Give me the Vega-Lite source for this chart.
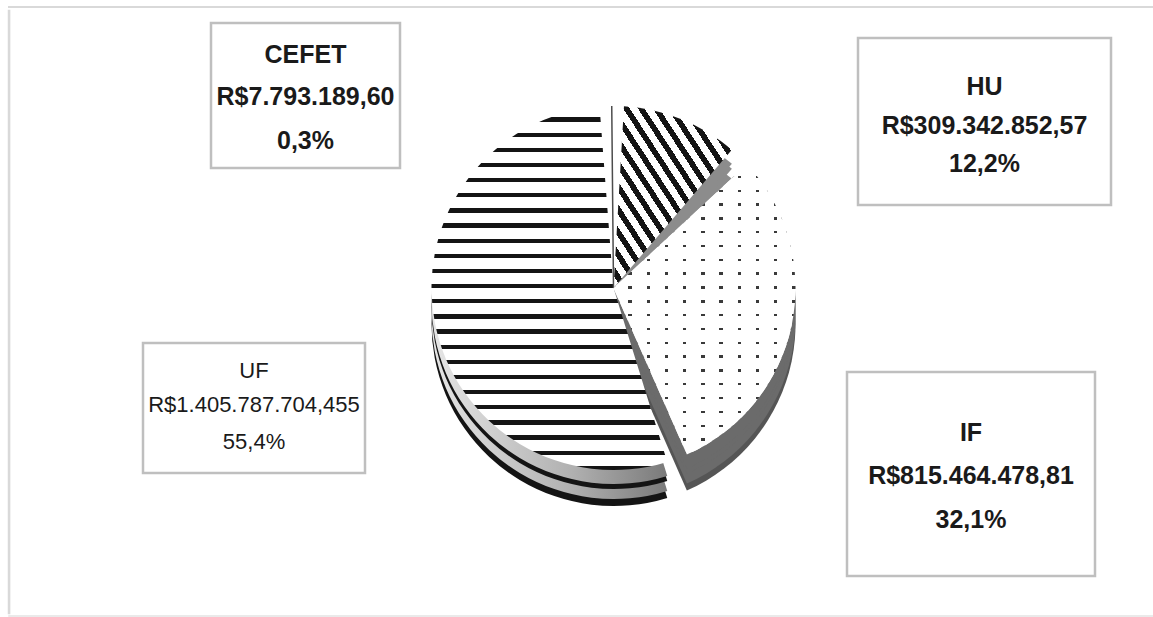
{
  "$schema": "https://vega.github.io/schema/vega-lite/v6.json",
  "padding": {"left": 7, "top": 6, "right": 0, "bottom": 0},
  "background": "white",
  "data": {
    "values": [
      {"name": "HU", "value": 309342852.57, "valor": "R$309.342.852,57", "pct": "12,2%"},
      {"name": "IF", "value": 815464478.81, "valor": "R$815.464.478,81", "pct": "32,1%"},
      {"name": "UF", "value": 1405787704.455, "valor": "R$1.405.787.704,455", "pct": "55,4%"},
      {"name": "CEFET", "value": 7793189.60, "valor": "R$7.793.189,60", "pct": "0,3%"}
    ]
  },
  "config": {
    "text": {"font": "Liberation Sans, Arial, sans-serif", "color": "#1a1a1a"}
  },
  "spacing": 0,
  "vconcat": [
    {"width": 1144, "height": 0.1, "data": {"values": []}, "view": {"stroke": "#d9d9d9", "strokeWidth": 2}, "mark": {"type": "text", "text": ""}},
    {
      "spacing": 0,
      "hconcat": [
        {"width": 0.1, "height": 602, "data": {"values": []}, "view": {"stroke": "#d9d9d9", "strokeWidth": 2.5}, "mark": {"type": "text", "text": ""}},
        {"width": 130, "height": 0.1, "data": {"values": []}, "view": {"stroke": null}, "mark": {"type": "text", "text": ""}},
        {
          "spacing": 0,
          "vconcat": [
            {"width": 0.1, "height": 10, "data": {"values": []}, "view": {"stroke": null}, "mark": {"type": "text", "text": ""}},
            {
              "spacing": 0,
              "hconcat": [
                {
                  "spacing": 0,
                  "vconcat": [
                    {
                      "spacing": 0,
                      "hconcat": [
                        {"width": 66, "height": 0.1, "data": {"values": []}, "view": {"stroke": null}, "mark": {"type": "text", "text": ""}},
                        {
                          "width": 189, "height": 145,
                          "view": {"stroke": "#bfbfbf", "strokeWidth": 2.5},
                          "transform": [{"filter": "datum.name === 'CEFET'"}],
                          "layer": [
                            {"mark": {"type": "text", "fontSize": 25, "fontWeight": "bold", "dy": -41}, "encoding": {"text": {"field": "name"}}},
                            {"mark": {"type": "text", "fontSize": 25, "fontWeight": "bold", "dy": 1}, "encoding": {"text": {"field": "valor"}}},
                            {"mark": {"type": "text", "fontSize": 25, "fontWeight": "bold", "dy": 45}, "encoding": {"text": {"field": "pct"}}}
                          ]
                        }
                      ]
                    },
                    {"width": 0.1, "height": 171, "data": {"values": []}, "view": {"stroke": null}, "mark": {"type": "text", "text": ""}},
                    {
                      "width": 222, "height": 130,
                      "view": {"stroke": "#bfbfbf", "strokeWidth": 2.5},
                      "transform": [{"filter": "datum.name === 'UF'"}],
                      "layer": [
                        {"mark": {"type": "text", "fontSize": 22, "dy": -37.5}, "encoding": {"text": {"field": "name"}}},
                        {"mark": {"type": "text", "fontSize": 22, "dy": -3}, "encoding": {"text": {"field": "valor"}}},
                        {"mark": {"type": "text", "fontSize": 22, "dy": 33.5}, "encoding": {"text": {"field": "pct"}}}
                      ]
                    }
                  ]
                },
                {
                  "width": 423, "height": 530,
                  "view": {"stroke": null},
                  "encoding": {"theta": {"field": "value", "type": "quantitative", "stack": true}},
                  "layer": [
                    {
                      "mark": {"type": "arc", "outerRadius": 182, "padAngle": 0.115, "yOffset": 36},
                      "encoding": {"fill": {"condition": [
                        {"test": "datum.name === 'UF'", "value": "#141414"},
                        {"test": "datum.name === 'IF'", "value": "#555555"}
                      ], "value": "#6e6e6e"}}
                    },
                    {
                      "mark": {"type": "arc", "outerRadius": 182, "padAngle": 0.115, "yOffset": 29},
                      "encoding": {"fill": {"condition": [
                        {"test": "datum.name === 'UF'", "value": {"gradient": "linear", "x1": 0, "y1": 0, "x2": 1, "y2": 0, "stops": [{"offset": 0, "color": "#e6e6e6"}, {"offset": 0.6, "color": "#b0b0b0"}, {"offset": 1, "color": "#7a7a7a"}]}},
                        {"test": "datum.name === 'IF'", "value": "#6b6b6b"}
                      ], "value": "#8c8c8c"}}
                    },
                    {
                      "mark": {"type": "arc", "outerRadius": 182, "padAngle": 0.115, "yOffset": 19},
                      "encoding": {"fill": {"condition": [
                        {"test": "datum.name === 'UF'", "value": "#141414"},
                        {"test": "datum.name === 'IF'", "value": "#6b6b6b"}
                      ], "value": "#8c8c8c"}}
                    },
                    {
                      "mark": {"type": "arc", "outerRadius": 182, "padAngle": 0.115, "yOffset": 14},
                      "encoding": {"fill": {"condition": [
                        {"test": "datum.name === 'UF'", "value": {"gradient": "linear", "x1": 0, "y1": 0, "x2": 1, "y2": 0, "stops": [{"offset": 0, "color": "#e6e6e6"}, {"offset": 0.6, "color": "#b0b0b0"}, {"offset": 1, "color": "#7a7a7a"}]}},
                        {"test": "datum.name === 'IF'", "value": "#6b6b6b"}
                      ], "value": "#8c8c8c"}}
                    },
                    {
                      "mark": {"type": "arc", "outerRadius": 182, "padAngle": 0.115, "strokeWidth": 1.5},
                      "encoding": {
                        "fill": {"condition": [
                          {"test": "datum.name === 'UF'", "value": {"gradient": "linear", "x1": 0, "y1": 0, "x2": 0, "y2": 1, "stops": [
                            {"offset": 0, "color": "#fff"}, {"offset": 0.03, "color": "#fff"}, {"offset": 0.03, "color": "#141414"}, {"offset": 0.0417, "color": "#141414"},
                            {"offset": 0.0417, "color": "#fff"}, {"offset": 0.0717, "color": "#fff"}, {"offset": 0.0717, "color": "#141414"}, {"offset": 0.0833, "color": "#141414"},
                            {"offset": 0.0833, "color": "#fff"}, {"offset": 0.1133, "color": "#fff"}, {"offset": 0.1133, "color": "#141414"}, {"offset": 0.125, "color": "#141414"},
                            {"offset": 0.125, "color": "#fff"}, {"offset": 0.155, "color": "#fff"}, {"offset": 0.155, "color": "#141414"}, {"offset": 0.1667, "color": "#141414"},
                            {"offset": 0.1667, "color": "#fff"}, {"offset": 0.1967, "color": "#fff"}, {"offset": 0.1967, "color": "#141414"}, {"offset": 0.2083, "color": "#141414"},
                            {"offset": 0.2083, "color": "#fff"}, {"offset": 0.2383, "color": "#fff"}, {"offset": 0.2383, "color": "#141414"}, {"offset": 0.25, "color": "#141414"},
                            {"offset": 0.25, "color": "#fff"}, {"offset": 0.28, "color": "#fff"}, {"offset": 0.28, "color": "#141414"}, {"offset": 0.2917, "color": "#141414"},
                            {"offset": 0.2917, "color": "#fff"}, {"offset": 0.3217, "color": "#fff"}, {"offset": 0.3217, "color": "#141414"}, {"offset": 0.3333, "color": "#141414"},
                            {"offset": 0.3333, "color": "#fff"}, {"offset": 0.3633, "color": "#fff"}, {"offset": 0.3633, "color": "#141414"}, {"offset": 0.375, "color": "#141414"},
                            {"offset": 0.375, "color": "#fff"}, {"offset": 0.405, "color": "#fff"}, {"offset": 0.405, "color": "#141414"}, {"offset": 0.4167, "color": "#141414"},
                            {"offset": 0.4167, "color": "#fff"}, {"offset": 0.4467, "color": "#fff"}, {"offset": 0.4467, "color": "#141414"}, {"offset": 0.4583, "color": "#141414"},
                            {"offset": 0.4583, "color": "#fff"}, {"offset": 0.4883, "color": "#fff"}, {"offset": 0.4883, "color": "#141414"}, {"offset": 0.5, "color": "#141414"},
                            {"offset": 0.5, "color": "#fff"}, {"offset": 0.53, "color": "#fff"}, {"offset": 0.53, "color": "#141414"}, {"offset": 0.5417, "color": "#141414"},
                            {"offset": 0.5417, "color": "#fff"}, {"offset": 0.5717, "color": "#fff"}, {"offset": 0.5717, "color": "#141414"}, {"offset": 0.5833, "color": "#141414"},
                            {"offset": 0.5833, "color": "#fff"}, {"offset": 0.6133, "color": "#fff"}, {"offset": 0.6133, "color": "#141414"}, {"offset": 0.625, "color": "#141414"},
                            {"offset": 0.625, "color": "#fff"}, {"offset": 0.655, "color": "#fff"}, {"offset": 0.655, "color": "#141414"}, {"offset": 0.6667, "color": "#141414"},
                            {"offset": 0.6667, "color": "#fff"}, {"offset": 0.6967, "color": "#fff"}, {"offset": 0.6967, "color": "#141414"}, {"offset": 0.7083, "color": "#141414"},
                            {"offset": 0.7083, "color": "#fff"}, {"offset": 0.7383, "color": "#fff"}, {"offset": 0.7383, "color": "#141414"}, {"offset": 0.75, "color": "#141414"},
                            {"offset": 0.75, "color": "#fff"}, {"offset": 0.78, "color": "#fff"}, {"offset": 0.78, "color": "#141414"}, {"offset": 0.7917, "color": "#141414"},
                            {"offset": 0.7917, "color": "#fff"}, {"offset": 0.8217, "color": "#fff"}, {"offset": 0.8217, "color": "#141414"}, {"offset": 0.8333, "color": "#141414"},
                            {"offset": 0.8333, "color": "#fff"}, {"offset": 0.8633, "color": "#fff"}, {"offset": 0.8633, "color": "#141414"}, {"offset": 0.875, "color": "#141414"},
                            {"offset": 0.875, "color": "#fff"}, {"offset": 0.905, "color": "#fff"}, {"offset": 0.905, "color": "#141414"}, {"offset": 0.9167, "color": "#141414"},
                            {"offset": 0.9167, "color": "#fff"}, {"offset": 0.9467, "color": "#fff"}, {"offset": 0.9467, "color": "#141414"}, {"offset": 0.9583, "color": "#141414"},
                            {"offset": 0.9583, "color": "#fff"}, {"offset": 0.9883, "color": "#fff"}, {"offset": 0.9883, "color": "#141414"}, {"offset": 1, "color": "#141414"}
                          ]}},
                          {"test": "datum.name === 'HU'", "value": {"gradient": "linear", "x1": 0, "y1": 1, "x2": 1, "y2": 0, "stops": [
                            {"offset": 0, "color": "#fff"}, {"offset": 0.0344, "color": "#fff"}, {"offset": 0.0344, "color": "#141414"}, {"offset": 0.0625, "color": "#141414"},
                            {"offset": 0.0625, "color": "#fff"}, {"offset": 0.0969, "color": "#fff"}, {"offset": 0.0969, "color": "#141414"}, {"offset": 0.125, "color": "#141414"},
                            {"offset": 0.125, "color": "#fff"}, {"offset": 0.1594, "color": "#fff"}, {"offset": 0.1594, "color": "#141414"}, {"offset": 0.1875, "color": "#141414"},
                            {"offset": 0.1875, "color": "#fff"}, {"offset": 0.2219, "color": "#fff"}, {"offset": 0.2219, "color": "#141414"}, {"offset": 0.25, "color": "#141414"},
                            {"offset": 0.25, "color": "#fff"}, {"offset": 0.2844, "color": "#fff"}, {"offset": 0.2844, "color": "#141414"}, {"offset": 0.3125, "color": "#141414"},
                            {"offset": 0.3125, "color": "#fff"}, {"offset": 0.3469, "color": "#fff"}, {"offset": 0.3469, "color": "#141414"}, {"offset": 0.375, "color": "#141414"},
                            {"offset": 0.375, "color": "#fff"}, {"offset": 0.4094, "color": "#fff"}, {"offset": 0.4094, "color": "#141414"}, {"offset": 0.4375, "color": "#141414"},
                            {"offset": 0.4375, "color": "#fff"}, {"offset": 0.4719, "color": "#fff"}, {"offset": 0.4719, "color": "#141414"}, {"offset": 0.5, "color": "#141414"},
                            {"offset": 0.5, "color": "#fff"}, {"offset": 0.5344, "color": "#fff"}, {"offset": 0.5344, "color": "#141414"}, {"offset": 0.5625, "color": "#141414"},
                            {"offset": 0.5625, "color": "#fff"}, {"offset": 0.5969, "color": "#fff"}, {"offset": 0.5969, "color": "#141414"}, {"offset": 0.625, "color": "#141414"},
                            {"offset": 0.625, "color": "#fff"}, {"offset": 0.6594, "color": "#fff"}, {"offset": 0.6594, "color": "#141414"}, {"offset": 0.6875, "color": "#141414"},
                            {"offset": 0.6875, "color": "#fff"}, {"offset": 0.7219, "color": "#fff"}, {"offset": 0.7219, "color": "#141414"}, {"offset": 0.75, "color": "#141414"},
                            {"offset": 0.75, "color": "#fff"}, {"offset": 0.7844, "color": "#fff"}, {"offset": 0.7844, "color": "#141414"}, {"offset": 0.8125, "color": "#141414"},
                            {"offset": 0.8125, "color": "#fff"}, {"offset": 0.8469, "color": "#fff"}, {"offset": 0.8469, "color": "#141414"}, {"offset": 0.875, "color": "#141414"},
                            {"offset": 0.875, "color": "#fff"}, {"offset": 0.9094, "color": "#fff"}, {"offset": 0.9094, "color": "#141414"}, {"offset": 0.9375, "color": "#141414"},
                            {"offset": 0.9375, "color": "#fff"}, {"offset": 0.9719, "color": "#fff"}, {"offset": 0.9719, "color": "#141414"}, {"offset": 1, "color": "#141414"}
                          ]}},
                          {"test": "datum.name === 'IF'", "value": {"gradient": "linear", "x1": 0, "y1": 0, "x2": 0, "y2": 1, "stops": [
                            {"offset": 0, "color": "#fff"}, {"offset": 0.0395, "color": "#fff"}, {"offset": 0.0395, "color": "#3a3a3a"}, {"offset": 0.0476, "color": "#3a3a3a"},
                            {"offset": 0.0476, "color": "#fff"}, {"offset": 0.0871, "color": "#fff"}, {"offset": 0.0871, "color": "#3a3a3a"}, {"offset": 0.0952, "color": "#3a3a3a"},
                            {"offset": 0.0952, "color": "#fff"}, {"offset": 0.1347, "color": "#fff"}, {"offset": 0.1347, "color": "#3a3a3a"}, {"offset": 0.1429, "color": "#3a3a3a"},
                            {"offset": 0.1429, "color": "#fff"}, {"offset": 0.1824, "color": "#fff"}, {"offset": 0.1824, "color": "#3a3a3a"}, {"offset": 0.1905, "color": "#3a3a3a"},
                            {"offset": 0.1905, "color": "#fff"}, {"offset": 0.23, "color": "#fff"}, {"offset": 0.23, "color": "#3a3a3a"}, {"offset": 0.2381, "color": "#3a3a3a"},
                            {"offset": 0.2381, "color": "#fff"}, {"offset": 0.2776, "color": "#fff"}, {"offset": 0.2776, "color": "#3a3a3a"}, {"offset": 0.2857, "color": "#3a3a3a"},
                            {"offset": 0.2857, "color": "#fff"}, {"offset": 0.3252, "color": "#fff"}, {"offset": 0.3252, "color": "#3a3a3a"}, {"offset": 0.3333, "color": "#3a3a3a"},
                            {"offset": 0.3333, "color": "#fff"}, {"offset": 0.3728, "color": "#fff"}, {"offset": 0.3728, "color": "#3a3a3a"}, {"offset": 0.381, "color": "#3a3a3a"},
                            {"offset": 0.381, "color": "#fff"}, {"offset": 0.4205, "color": "#fff"}, {"offset": 0.4205, "color": "#3a3a3a"}, {"offset": 0.4286, "color": "#3a3a3a"},
                            {"offset": 0.4286, "color": "#fff"}, {"offset": 0.4681, "color": "#fff"}, {"offset": 0.4681, "color": "#3a3a3a"}, {"offset": 0.4762, "color": "#3a3a3a"},
                            {"offset": 0.4762, "color": "#fff"}, {"offset": 0.5157, "color": "#fff"}, {"offset": 0.5157, "color": "#3a3a3a"}, {"offset": 0.5238, "color": "#3a3a3a"},
                            {"offset": 0.5238, "color": "#fff"}, {"offset": 0.5633, "color": "#fff"}, {"offset": 0.5633, "color": "#3a3a3a"}, {"offset": 0.5714, "color": "#3a3a3a"},
                            {"offset": 0.5714, "color": "#fff"}, {"offset": 0.611, "color": "#fff"}, {"offset": 0.611, "color": "#3a3a3a"}, {"offset": 0.619, "color": "#3a3a3a"},
                            {"offset": 0.619, "color": "#fff"}, {"offset": 0.6586, "color": "#fff"}, {"offset": 0.6586, "color": "#3a3a3a"}, {"offset": 0.6667, "color": "#3a3a3a"},
                            {"offset": 0.6667, "color": "#fff"}, {"offset": 0.7062, "color": "#fff"}, {"offset": 0.7062, "color": "#3a3a3a"}, {"offset": 0.7143, "color": "#3a3a3a"},
                            {"offset": 0.7143, "color": "#fff"}, {"offset": 0.7538, "color": "#fff"}, {"offset": 0.7538, "color": "#3a3a3a"}, {"offset": 0.7619, "color": "#3a3a3a"},
                            {"offset": 0.7619, "color": "#fff"}, {"offset": 0.8014, "color": "#fff"}, {"offset": 0.8014, "color": "#3a3a3a"}, {"offset": 0.8095, "color": "#3a3a3a"},
                            {"offset": 0.8095, "color": "#fff"}, {"offset": 0.849, "color": "#fff"}, {"offset": 0.849, "color": "#3a3a3a"}, {"offset": 0.8571, "color": "#3a3a3a"},
                            {"offset": 0.8571, "color": "#fff"}, {"offset": 0.8967, "color": "#fff"}, {"offset": 0.8967, "color": "#3a3a3a"}, {"offset": 0.9048, "color": "#3a3a3a"},
                            {"offset": 0.9048, "color": "#fff"}, {"offset": 0.9443, "color": "#fff"}, {"offset": 0.9443, "color": "#3a3a3a"}, {"offset": 0.9524, "color": "#3a3a3a"},
                            {"offset": 0.9524, "color": "#fff"}, {"offset": 0.9919, "color": "#fff"}, {"offset": 0.9919, "color": "#3a3a3a"}, {"offset": 1, "color": "#3a3a3a"}
                          ]}}
                        ], "value": "#ffffff"},
                        "stroke": {"condition": {"test": "datum.name === 'CEFET'", "value": "#4d4d4d"}, "value": null}
                      }
                    },
                    {
                      "mark": {"type": "arc", "outerRadius": 182, "padAngle": 0.115},
                      "encoding": {
                        "fill": {"condition": {"test": "datum.name === 'IF'", "value": {"gradient": "linear", "x1": 0, "y1": 0, "x2": 1, "y2": 0, "stops": [
                          {"offset": 0, "color": "#fff"}, {"offset": 0.082, "color": "#fff"}, {"offset": 0.082, "color": "rgba(255,255,255,0)"}, {"offset": 0.1, "color": "rgba(255,255,255,0)"},
                          {"offset": 0.1, "color": "#fff"}, {"offset": 0.182, "color": "#fff"}, {"offset": 0.182, "color": "rgba(255,255,255,0)"}, {"offset": 0.2, "color": "rgba(255,255,255,0)"},
                          {"offset": 0.2, "color": "#fff"}, {"offset": 0.282, "color": "#fff"}, {"offset": 0.282, "color": "rgba(255,255,255,0)"}, {"offset": 0.3, "color": "rgba(255,255,255,0)"},
                          {"offset": 0.3, "color": "#fff"}, {"offset": 0.382, "color": "#fff"}, {"offset": 0.382, "color": "rgba(255,255,255,0)"}, {"offset": 0.4, "color": "rgba(255,255,255,0)"},
                          {"offset": 0.4, "color": "#fff"}, {"offset": 0.482, "color": "#fff"}, {"offset": 0.482, "color": "rgba(255,255,255,0)"}, {"offset": 0.5, "color": "rgba(255,255,255,0)"},
                          {"offset": 0.5, "color": "#fff"}, {"offset": 0.582, "color": "#fff"}, {"offset": 0.582, "color": "rgba(255,255,255,0)"}, {"offset": 0.6, "color": "rgba(255,255,255,0)"},
                          {"offset": 0.6, "color": "#fff"}, {"offset": 0.682, "color": "#fff"}, {"offset": 0.682, "color": "rgba(255,255,255,0)"}, {"offset": 0.7, "color": "rgba(255,255,255,0)"},
                          {"offset": 0.7, "color": "#fff"}, {"offset": 0.782, "color": "#fff"}, {"offset": 0.782, "color": "rgba(255,255,255,0)"}, {"offset": 0.8, "color": "rgba(255,255,255,0)"},
                          {"offset": 0.8, "color": "#fff"}, {"offset": 0.882, "color": "#fff"}, {"offset": 0.882, "color": "rgba(255,255,255,0)"}, {"offset": 0.9, "color": "rgba(255,255,255,0)"},
                          {"offset": 0.9, "color": "#fff"}, {"offset": 0.982, "color": "#fff"}, {"offset": 0.982, "color": "rgba(255,255,255,0)"}, {"offset": 1, "color": "rgba(255,255,255,0)"}
                        ]}}, "value": null}
                      }
                    }
                  ]
                },
                {
                  "spacing": 0,
                  "vconcat": [
                    {"width": 0.1, "height": 13, "data": {"values": []}, "view": {"stroke": null}, "mark": {"type": "text", "text": ""}},
                    {
                      "spacing": 0,
                      "hconcat": [
                        {"width": 31, "height": 0.1, "data": {"values": []}, "view": {"stroke": null}, "mark": {"type": "text", "text": ""}},
                        {
                          "width": 253, "height": 167,
                          "view": {"stroke": "#bfbfbf", "strokeWidth": 2.5},
                          "transform": [{"filter": "datum.name === 'HU'"}],
                          "layer": [
                            {"mark": {"type": "text", "fontSize": 25, "fontWeight": "bold", "dy": -35}, "encoding": {"text": {"field": "name"}}},
                            {"mark": {"type": "text", "fontSize": 25, "fontWeight": "bold", "dy": 4}, "encoding": {"text": {"field": "valor"}}},
                            {"mark": {"type": "text", "fontSize": 25, "fontWeight": "bold", "dy": 42}, "encoding": {"text": {"field": "pct"}}}
                          ]
                        }
                      ]
                    },
                    {"width": 0.1, "height": 162.5, "data": {"values": []}, "view": {"stroke": null}, "mark": {"type": "text", "text": ""}},
                    {
                      "spacing": 0,
                      "hconcat": [
                        {"width": 20, "height": 0.1, "data": {"values": []}, "view": {"stroke": null}, "mark": {"type": "text", "text": ""}},
                        {
                          "width": 248, "height": 204,
                          "view": {"stroke": "#bfbfbf", "strokeWidth": 2.5},
                          "transform": [{"filter": "datum.name === 'IF'"}],
                          "layer": [
                            {"mark": {"type": "text", "fontSize": 25, "fontWeight": "bold", "dy": -41.5}, "encoding": {"text": {"field": "name"}}},
                            {"mark": {"type": "text", "fontSize": 25, "fontWeight": "bold", "dy": 1.5}, "encoding": {"text": {"field": "valor"}}},
                            {"mark": {"type": "text", "fontSize": 25, "fontWeight": "bold", "dy": 45.5}, "encoding": {"text": {"field": "pct"}}}
                          ]
                        }
                      ]
                    }
                  ]
                }
              ]
            }
          ]
        }
      ]
    },
    {"width": 1144, "height": 0.1, "data": {"values": []}, "view": {"stroke": "#e3e3e3", "strokeWidth": 1.5}, "mark": {"type": "text", "text": ""}}
  ]
}
